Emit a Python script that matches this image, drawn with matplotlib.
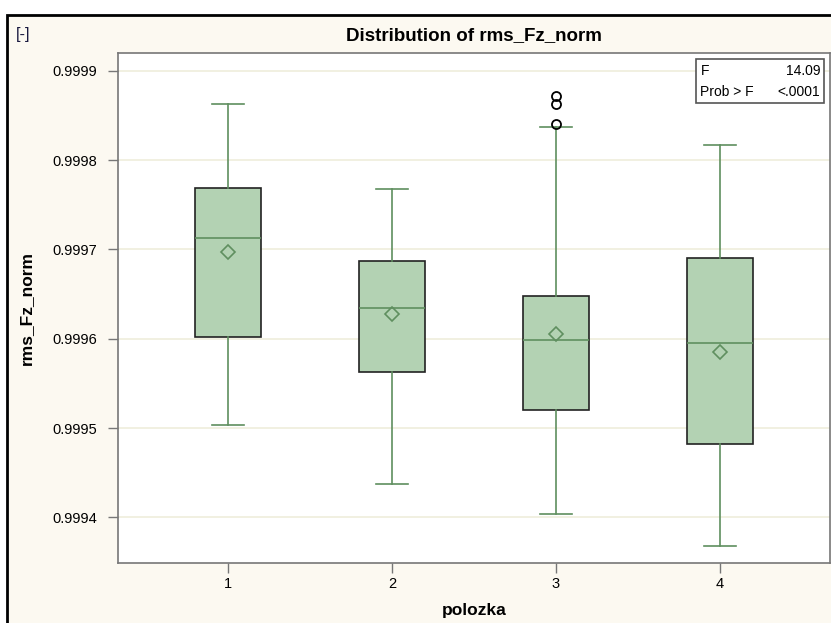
import matplotlib.pyplot as plt
from matplotlib.patches import Rectangle

# values
groups = ['1', '2', '3', '4']
whislo = [0.999503, 0.999437, 0.999404, 0.999368]
q1 = [0.999602, 0.999563, 0.999520, 0.999482]
med = [0.999713, 0.999634, 0.999599, 0.999595]
q3 = [0.999769, 0.999687, 0.999648, 0.999690]
whishi = [0.999863, 0.999768, 0.999837, 0.999817]
means = [0.999697, 0.999628, 0.999605, 0.999585]
fliers = [[], [], [0.999841, 0.999863, 0.999872], []]
y_ticks = [0.9994, 0.9995, 0.9996, 0.9997, 0.9998, 0.9999]
stat_names = ['F', 'Prob > F']
stat_values = ['14.09', '<.0001']

plt.rcParams['font.family'] = ['Liberation Sans', 'DejaVu Sans']

fig = plt.figure(figsize=(8.31, 6.23), dpi=100, facecolor='white')
fig.add_artist(Rectangle((7 / 831, -0.05), 1.1, 1 - 15 / 623 + 0.05,
                         transform=fig.transFigure, facecolor='#fcf9f1',
                         edgecolor='black', lw=2, zorder=0))

ax = fig.add_axes([118 / 831, 1 - 563 / 623, 712 / 831, 510 / 623])
ax.set_facecolor('white')

stats = []
for i in range(4):
    stats.append(dict(label=groups[i], whislo=whislo[i], q1=q1[i], med=med[i],
                      q3=q3[i], whishi=whishi[i], mean=means[i], fliers=fliers[i]))

green = '#5f8f5f'
ax.bxp(stats, positions=[1, 2, 3, 4], widths=0.4, patch_artist=True,
       showmeans=True, capwidths=0.2,
       boxprops=dict(facecolor='#b3d2b3', edgecolor='#222222', lw=1.2),
       medianprops=dict(color=green, lw=1.2),
       whiskerprops=dict(color=green, lw=1.2),
       capprops=dict(color=green, lw=1.2),
       meanprops=dict(marker='D', markerfacecolor='none', markeredgecolor=green,
                      markersize=7.5, markeredgewidth=1.2),
       flierprops=dict(marker='o', markerfacecolor='none', markeredgecolor='black',
                       markersize=6.5, markeredgewidth=1.3),
       zorder=3)

ax.set_xlim(0.33, 4.67)
ax.set_ylim(0.999349, 0.99992)
ax.set_yticks(y_ticks)
ax.set_yticklabels(['%.4f' % t for t in y_ticks])
ax.grid(axis='y', color='#efeedc', lw=1.2, zorder=0)
ax.set_axisbelow(True)
for s in ax.spines.values():
    s.set_color('#777777')
    s.set_linewidth(1.2)
ax.tick_params(direction='out', length=7, color='#777777', labelsize=10.5, width=1)
ax.tick_params(axis='x', pad=3)
ax.tick_params(axis='y', pad=8)

ax.set_xlabel('polozka', fontsize=12.5, fontweight='bold', labelpad=9)
ax.set_ylabel('rms_Fz_norm', fontsize=12.5, fontweight='bold', labelpad=13)

fig.text(474 / 831, 1 - 36 / 623, 'Distribution of rms_Fz_norm', ha='center', va='center',
         fontsize=13.5, fontweight='bold')
fig.text(16 / 831, 1 - 35 / 623, '[-]', ha='left', va='center', fontsize=12,
         color='#1a1a40')

# statistics inset box
ax.add_patch(Rectangle((0.812, 0.902), 0.180, 0.086, transform=ax.transAxes,
                       facecolor='white', edgecolor='#555555', lw=1.2, zorder=5))
for k in range(2):
    yy = 0.965 - k * 0.042
    ax.text(0.818, yy, stat_names[k], transform=ax.transAxes, ha='left', va='center',
            fontsize=10, zorder=6)
    ax.text(0.986, yy, stat_values[k], transform=ax.transAxes, ha='right', va='center',
            fontsize=10, zorder=6)

fig.savefig('out.png', dpi=100, facecolor='white')
